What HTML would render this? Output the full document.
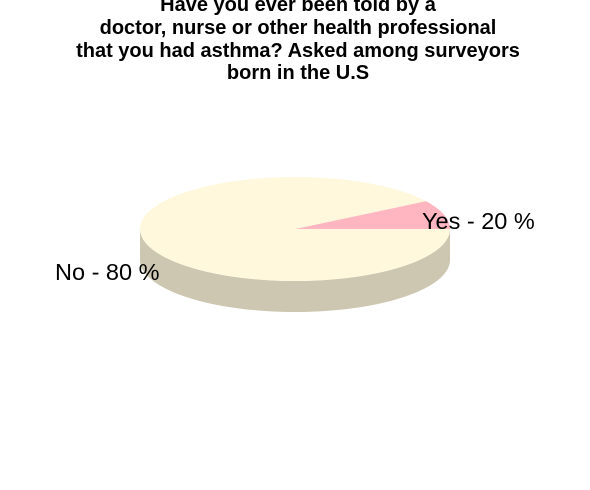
<!DOCTYPE html>
<html><head><meta charset="utf-8"><style>
body{margin:0;background:#fff;}
svg{display:block;font-family:"Liberation Sans",sans-serif;}
</style></head><body>
<svg id="chart" width="590" height="490" viewBox="0 0 590 490">
<g font-weight="bold" font-size="20" text-anchor="middle" fill="#000">
<text x="298" y="11">Have you ever been told by a</text>
<text x="298" y="34">doctor, nurse or other health professional</text>
<text x="298" y="57">that you had asthma? Asked among surveyors</text>
<text x="298" y="79">born in the U.S</text>
</g>
<g id="pie"></g>
</svg>
<script>
const categories = ["Yes", "No"];
const values = [9, 91];
const labels = ["Yes - 20 %", "No - 80 %"];
const colors = ["#FFB6C1", "#FFF8DC"];
const sideColors = ["#CCB3B8", "#CDC6B0"];
const cx = 295, cy = 229, rx = 155, ry = 52, depth = 31;
const g = document.getElementById('pie');
const NS = "http://www.w3.org/2000/svg";
const total = values.reduce((a, b) => a + b, 0);
function pt(a, dy) { return [cx + rx * Math.cos(a), cy - ry * Math.sin(a) + (dy || 0)]; }
function arcPath(a0, a1, dy) {
  let d = "", n = 80;
  for (let i = 0; i <= n; i++) { const a = a0 + (a1 - a0) * i / n; const p = pt(a, dy); d += (i ? "L" : "M") + p[0].toFixed(2) + "," + p[1].toFixed(2); }
  return d;
}
let start = 0;
const slices = values.map((v, i) => { const a0 = start; const a1 = start + v / total * 2 * Math.PI; start = a1; return [a0, a1]; });
slices.forEach(([a0, a1], i) => {
  const s = Math.max(a0, Math.PI), e = Math.min(a1, 2 * Math.PI);
  if (e > s) {
    let d = arcPath(s, e, 0);
    const back = arcPath(e, s, depth).replace(/^M/, "L");
    const p = document.createElementNS(NS, "path");
    p.setAttribute("d", d + back + "Z");
    p.setAttribute("fill", sideColors[i]);
    
    
    g.appendChild(p);
  }
});
slices.forEach(([a0, a1], i) => {
  const p = document.createElementNS(NS, "path");
  p.setAttribute("d", "M" + cx + "," + cy + arcPath(a0, a1, 0).replace(/^M/, "L") + "Z");
  p.setAttribute("fill", colors[i]);
  
  
  g.appendChild(p);
});
const labelPos = [[422, 229, "start"], [55, 280, "start"]];
labels.forEach((t, i) => {
  const el = document.createElementNS(NS, "text");
  el.setAttribute("x", labelPos[i][0]); el.setAttribute("y", labelPos[i][1]);
  el.setAttribute("font-size", "23.5"); el.setAttribute("text-anchor", labelPos[i][2]);
  el.textContent = t;
  
  
  g.appendChild(el);
});
</script>
</body></html>
